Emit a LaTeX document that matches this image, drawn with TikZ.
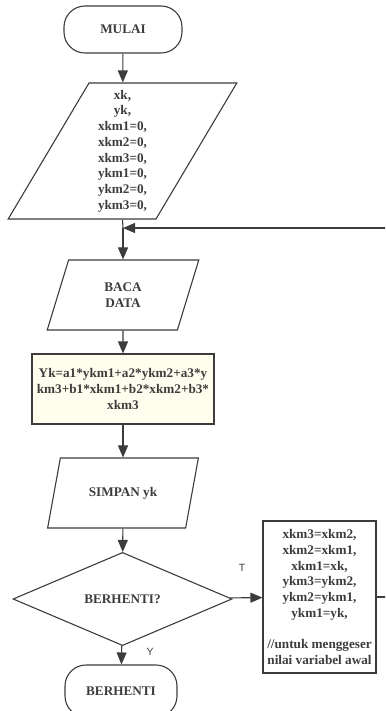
\documentclass[tikz,border=0pt]{standalone}
\usepackage{fontspec}
\setmainfont{Liberation Serif}
\newfontfamily\lblfont{Liberation Sans}
\usetikzlibrary{shapes.geometric,arrows.meta}
\definecolor{ink}{RGB}{60,60,60}
\definecolor{cream}{RGB}{255,254,238}
\begin{document}
\begin{tikzpicture}[x=1pt,y=-1pt,
  base/.style={draw=ink, text=ink, line width=1.1pt, font=\fontsize{13.2}{15.7}\selectfont\bfseries, align=center, inner sep=2pt},
  term/.style={base, rectangle, rounded corners=21pt, minimum width=118pt, minimum height=47pt},
  io/.style={base, trapezium, trapezium stretches=true},
  proc/.style={base, rectangle},
  dec/.style={base, diamond},
  arr/.style={draw=ink, line width=1.1pt, -{Triangle[length=12pt,width=10pt]}},
  lbl/.style={font=\lblfont\fontsize{10.5}{12}\selectfont, text=ink, inner sep=0pt}
]
\useasboundingbox (0,0) rectangle (385,711);
\clip (0,0) rectangle (385,711);
\node[term] (start) at (123,29.5) {MULAI};
\node[io, trapezium left angle=63.1, trapezium right angle=116.9, minimum width=229pt, minimum height=136pt] (init) at (122.5,151)
  {xk,\\yk,\\xkm1=0,\\xkm2=0,\\xkm3=0,\\ykm1=0,\\ykm2=0,\\ykm3=0,};
\node[io, trapezium left angle=74.05, trapezium right angle=105.95, minimum width=152pt, minimum height=70pt] (read) at (123,295)
  {BACA\\DATA};
\node[proc, fill=cream, minimum width=182pt, minimum height=70pt] (calc) at (123,389)
  {Yk=a1*ykm1+a2*ykm2+a3*y\\km3+b1*xkm1+b2*xkm2+b3*\\xkm3};
\node[io, trapezium left angle=65.4, trapezium right angle=114.6, minimum width=152pt, minimum height=70pt] (save) at (123,493)
  {SIMPAN yk};
\node[dec, minimum width=219pt, minimum height=68pt] (stop) at (122.5,599) {BERHENTI?};
\node[term, minimum width=112pt, minimum height=52pt] (end) at (121,691) {BERHENTI};
\node[proc, minimum width=113pt, minimum height=152pt] (upd) at (319.5,597)
  {xkm3=xkm2,\\xkm2=xkm1,\\xkm1=xk,\\ykm3=ykm2,\\ykm2=ykm1,\\ykm1=yk,\\[15.7pt]//untuk menggeser\\nilai variabel awal};
\coordinate (join) at (123,228);
\coordinate (loopR) at (400,228);
\node[lbl] (tlab) at (242,568) {T};
\node[lbl] (ylab) at (150,652) {Y};
\draw[arr] (start) -- (init);
\draw[draw=ink, line width=1.1pt] (init.south) -- (join);
\draw[arr] (join) -- (read);
\draw[arr] (read) -- (calc);
\draw[arr] (calc) -- (save);
\draw[arr] (save) -- (stop);
\draw[arr] (stop) -- (upd);
\draw[arr] (stop) -- (end);
\draw[arr] (upd.east) -| (loopR) -- (join);
\end{tikzpicture}
\end{document}
